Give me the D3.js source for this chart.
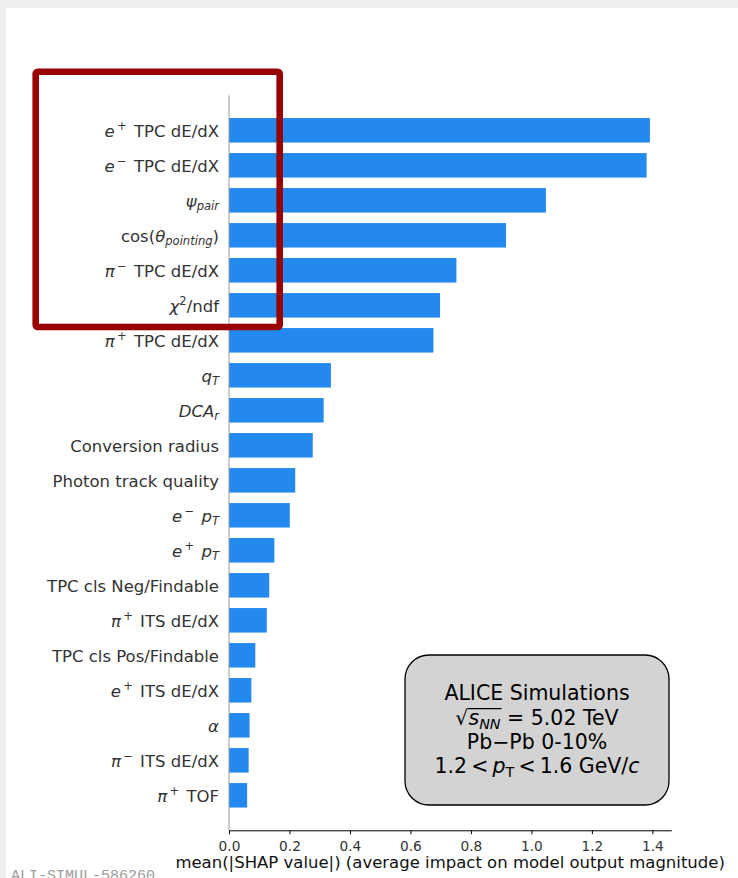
<!DOCTYPE html>
<html>
<head>
<meta charset="utf-8">
<script src="https://cdn.jsdelivr.net/npm/d3@7"></script>
<style>
  html, body { margin: 0; padding: 0; background: #eeeeee; }
  svg { display: block; }
</style>
</head>
<body>
<svg id="chart" width="738" height="878"></svg>
<script>
// Feature names, written in a small mathtext-like markup, ordered top to bottom
const features = [
  "$e^{+}$ TPC dE/dX",
  "$e^{-}$ TPC dE/dX",
  "$\\psi_{pair}$",
  "cos($\\theta_{pointing}$)",
  "$\\pi^{-}$ TPC dE/dX",
  "$\\chi^{2}$/ndf",
  "$\\pi^{+}$ TPC dE/dX",
  "$q_{T}$",
  "$DCA_{r}$",
  "Conversion radius",
  "Photon track quality",
  "$e^{-}$ $p_{T}$",
  "$e^{+}$ $p_{T}$",
  "TPC cls Neg/Findable",
  "$\\pi^{+}$ ITS dE/dX",
  "TPC cls Pos/Findable",
  "$e^{+}$ ITS dE/dX",
  "$\\alpha$",
  "$\\pi^{-}$ ITS dE/dX",
  "$\\pi^{+}$ TOF"
];

// mean(|SHAP value|) for each feature
const meanAbsShap = [
  1.392, 1.381, 1.048, 0.916, 0.752, 0.698, 0.676, 0.337, 0.313, 0.277,
  0.219, 0.201, 0.150, 0.133, 0.125, 0.087, 0.074, 0.068, 0.065, 0.060
];

const xTicks = [0, 0.2, 0.4, 0.6, 0.8, 1.0, 1.2, 1.4];
const xTitle = "mean(|SHAP value|) (average impact on model output magnitude)";

const infoLines = [
  "ALICE Simulations",
  "$\\sqrt{s_{NN}}$ = 5.02 TeV",
  "Pb\u2212Pb 0-10%",
  "1.2$<p_{\\rm T}<$1.6 GeV/$c$"
];
const plotId = "ALI-SIMUL-586260";

// ---------------------------------------------------------------------------
const FONT = "'DejaVu Sans', 'Liberation Sans', sans-serif";
const svg = d3.select("#chart");

// page background and white sheet
svg.append("rect").attr("x", 0).attr("y", 0).attr("width", 738).attr("height", 878).attr("fill", "#eeeeee");
svg.append("rect").attr("x", 6).attr("y", 8).attr("width", 732).attr("height", 870).attr("fill", "#ffffff");

// scales
const x = d3.scaleLinear().domain([0, 1.4627]).range([229, 671.3]);
const y = d3.scaleLinear().domain([-1, features.length]).range([95.3, 830.3]);
const barH = (y(1) - y(0)) * 0.7;

// --- tiny mathtext parser -> styled runs -----------------------------------
const greek = { psi: "\u03C8", theta: "\u03B8", pi: "\u03C0", chi: "\u03C7", alpha: "\u03B1" };

function readGroup(s, i) {
  if (s[i] === "{") {
    let depth = 1, j = i + 1;
    while (j < s.length && depth > 0) {
      if (s[j] === "{") depth++;
      else if (s[j] === "}") depth--;
      j++;
    }
    return { content: s.slice(i + 1, j - 1), end: j };
  }
  return { content: s[i], end: i + 1 };
}

function mathRuns(s, lv, runs, over) {
  let i = 0, rm = false;
  while (i < s.length) {
    const c = s[i];
    if (c === "\\") {
      const m = /^\\([a-zA-Z]+)/.exec(s.slice(i));
      i += m[0].length;
      const name = m[1];
      if (name === "rm") { rm = true; continue; }
      if (name === "sqrt") {
        const g = readGroup(s, i); i = g.end;
        runs.push({ t: "\u221A", it: false, lv, sqrt: true });
        mathRuns(g.content, lv, runs, true);
        continue;
      }
      runs.push({ t: greek[name] || name, it: true, lv, over });
      continue;
    }
    if (c === "^" || c === "_") {
      const g = readGroup(s, i + 1); i = g.end;
      mathRuns(g.content, c === "^" ? "sup" : "sub", runs, over);
      continue;
    }
    if (c === " ") { i++; continue; }
    if (c === "<" || c === ">" || c === "=") {
      // relations get space on both sides
      runs.push({ t: c, it: false, lv, over, padL: 0.2, padR: 0.2 });
      i++; continue;
    }
    if (c === "+" || c === "-") {
      const ch = c === "-" ? "\u2212" : "+";
      if (lv === "sup") runs.push({ t: ch, it: false, lv, over, padL: 0.14, padR: 0.12 });
      else runs.push({ t: ch, it: false, lv, over, padL: 0.2, padR: 0.2 });
      i++; continue;
    }
    runs.push({ t: c, it: /[A-Za-z]/.test(c) && !rm, lv, over });
    i++;
  }
}

function parseLabel(str) {
  const runs = [];
  str.split("$").forEach((p, k) => {
    if (k % 2 === 0) { if (p) runs.push({ t: p, it: false, lv: 0 }); }
    else mathRuns(p, 0, runs, false);
  });
  // merge neighbours with identical styling
  const merged = [];
  runs.forEach(r => {
    const last = merged[merged.length - 1];
    const plain = q => !q.sqrt && !q.padL && !q.padR;
    if (last && plain(r) && plain(last) && last.it === r.it && last.lv === r.lv && !!last.over === !!r.over) last.t += r.t;
    else merged.push(Object.assign({}, r));
  });
  return merged;
}

function renderRuns(textSel, runs, size) {
  let cur = 0, pendingPad = 0;
  runs.forEach(r => {
    const target = r.lv === "sup" ? -0.40 * size : r.lv === "sub" ? 0.20 * size : 0;
    const ts = textSel.append("tspan")
      .text(r.t)
      .style("font-size", (r.lv ? 0.7 * size : size) + "px")
      .style("font-style", r.it ? "italic" : "normal");
    if (target - cur !== 0) ts.attr("dy", target - cur);
    const dx = (pendingPad + (r.padL || 0)) * size;
    if (dx) ts.attr("dx", dx);
    pendingPad = r.padR || 0;
    cur = target;
  });
  if (pendingPad) textSel.append("tspan").attr("dx", pendingPad * size).text("\u200B");
}

// --- bars -------------------------------------------------------------------
svg.append("g")
  .selectAll("rect")
  .data(meanAbsShap)
  .join("rect")
  .attr("x", x(0))
  .attr("y", (d, i) => y(i) - barH / 2)
  .attr("width", d => x(d) - x(0))
  .attr("height", barH)
  .attr("fill", "#2389EE");

// left spine
svg.append("line")
  .attr("x1", x(0)).attr("x2", x(0))
  .attr("y1", y(-1)).attr("y2", y(features.length))
  .attr("stroke", "#999999").attr("stroke-width", 1);

// feature labels
const labelSize = 16.5;
const labels = svg.append("g");
features.forEach((f, i) => {
  const t = labels.append("text")
    .attr("x", x(0) - 10)
    .attr("y", y(i) + 6.2)
    .attr("text-anchor", "end")
    .attr("fill", "#333333")
    .style("font-family", FONT)
    .style("font-size", labelSize + "px");
  renderRuns(t, parseLabel(f), labelSize);
});

// bottom axis
const xAxis = d3.axisBottom(x)
  .tickValues(xTicks)
  .tickFormat(d3.format(".1f"))
  .tickSize(4)
  .tickSizeOuter(0)
  .tickPadding(6.5);
const gx = svg.append("g").attr("transform", `translate(0,${y(features.length)})`).call(xAxis);
gx.select(".domain").attr("stroke", "#000000").attr("stroke-width", 1);
gx.selectAll(".tick line").attr("stroke", "#000000");
gx.selectAll(".tick text")
  .attr("fill", "#333333")
  .style("font-family", FONT)
  .style("font-size", "13.7px");

// axis title
svg.append("text")
  .attr("x", (x.range()[0] + x.range()[1]) / 2)
  .attr("y", 868)
  .attr("text-anchor", "middle")
  .attr("fill", "#111111")
  .style("font-family", FONT)
  .style("font-size", "16.5px")
  .text(xTitle);

// highlight frame around the leading features
svg.append("rect")
  .attr("x", 35.7).attr("y", 71.7)
  .attr("width", 244).attr("height", 255.3)
  .attr("rx", 2)
  .attr("fill", "none")
  .attr("stroke", "#990000")
  .attr("stroke-width", 6.6);

// info box
const box = { x: 405, y: 655, w: 264, h: 150 };
svg.append("rect")
  .attr("x", box.x).attr("y", box.y)
  .attr("width", box.w).attr("height", box.h)
  .attr("rx", 24).attr("ry", 24)
  .attr("fill", "#d3d3d3")
  .attr("stroke", "#000000")
  .attr("stroke-width", 1.3);

const infoSize = 20.5;
const infoBaselines = [700, 725, 749, 773];
infoLines.forEach((line, k) => {
  const runs = parseLabel(line);
  const t = svg.append("text")
    .attr("x", box.x + box.w / 2)
    .attr("y", infoBaselines[k])
    .attr("text-anchor", "middle")
    .attr("fill", "#000000")
    .style("font-family", FONT)
    .style("font-size", infoSize + "px");
  renderRuns(t, runs, infoSize);
  // overline for the square root
  let idx = 0, sqrtEnd = null, overEnd = null;
  const node = t.node();
  runs.forEach(r => {
    const n = r.t.length;
    if (r.sqrt) { const e = node.getExtentOfChar(idx); sqrtEnd = e.x + e.width; }
    if (r.over) { const e = node.getExtentOfChar(idx + n - 1); overEnd = e.x + e.width; }
    idx += n;
  });
  if (sqrtEnd !== null && overEnd !== null) {
    svg.append("line")
      .attr("x1", sqrtEnd - 0.5).attr("x2", overEnd + 1)
      .attr("y1", infoBaselines[k] - 0.80 * infoSize)
      .attr("y2", infoBaselines[k] - 0.80 * infoSize)
      .attr("stroke", "#000000").attr("stroke-width", 1.2);
  }
});

// plot identifier
svg.append("text")
  .attr("x", 11)
  .attr("y", 879.5)
  .attr("fill", "#9c9c9c")
  .style("font-family", "'Liberation Mono', 'DejaVu Sans Mono', monospace")
  .style("font-size", "15px")
  .text(plotId);
</script>
</body>
</html>
